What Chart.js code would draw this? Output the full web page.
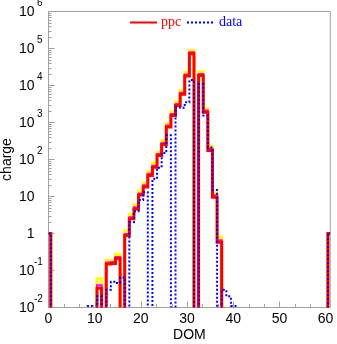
<!DOCTYPE html>
<html><head><meta charset="utf-8">
<script src="https://cdn.jsdelivr.net/npm/chart.js@4"></script>
<style>html,body{margin:0;padding:0;background:#fff}canvas{display:block}</style>
</head><body>
<canvas id="c" width="337" height="344"></canvas>
<script>
// DOM index (bin centres)
const doms = [0,1,2,3,4,5,6,7,8,9,10,11,12,13,14,15,16,17,18,19,20,
  21,22,23,24,25,26,27,28,29,30,31,32,33,34,35,36,37,38,39,40,
  41,42,43,44,45,46,47,48,49,50,51,52,53,54,55,56,57,58,59,60,61];

// ppc simulation (red)
const ppc = [1, 0,0,0,0,0,0,0,0,0,0,
  0.033, 0, 0.15, 0.155, 0.21, 0, 0.88, 2.5, 4.6, 11,
  18, 37, 62, 128, 254, 750, 1550, 2870, 5800, 18000,
  72000, 0, 18600, 1900, 175, 9.6, 0.58, 0, 0, 0,
  0,0,0,0,0,0,0,0,0,0, 0,0,0,0,0,0,0,0,0,0, 1];

// ppc variant (magenta)
const ppcMid = [1, 0,0,0,0,0,0,0,0,0,0,
  0.04, 0, 0.165, 0.17, 0.23, 0, 0.97, 2.75, 5.1, 12,
  20, 41, 68, 140, 280, 830, 1700, 3150, 6400, 19800,
  79000, 0, 20500, 2100, 195, 10.8, 0.66, 0, 0, 0,
  0,0,0,0,0,0,0,0,0,0, 0,0,0,0,0,0,0,0,0,0, 1];

// ppc variant (yellow)
const ppcHigh = [1, 0,0,0,0,0,0,0,0,0,0,
  0.06, 0, 0.19, 0.19, 0.27, 0, 1.2, 3.3, 6, 14,
  23, 47, 80, 160, 320, 930, 1950, 3600, 7300, 22500,
  88000, 0, 23500, 2400, 225, 12.5, 0.8, 0, 0, 0,
  0,0,0,0,0,0,0,0,0,0, 0,0,0,0,0,0,0,0,0,0, 1];

// measured data (blue dotted)
const dataVals = [1, 0,0,0,0,0,0,0,0,0.011,0,
  0.02, 0, 0.03, 0.05, 0.046, 0.065, 0, 2.0, 4.0, 8,
  13, 0, 30, 60, 150, 450, 0, 2600, 2500, 3500,
  14000, 0, 11000, 1550, 210, 15, 0, 0.03, 0.02, 0.011,
  0,0,0,0,0,0,0,0,0,0, 0,0,0,0,0,0,0,0,0,0, 1];

const xTicks = [0, 10, 20, 30, 40, 50, 60];
const yTicks = [1e-2, 1e-1, 1, 10, 1e2, 1e3, 1e4, 1e5, 1e6];

const FLOOR = 1e-7; // empty bins fall below the axis
const toPts = v => doms.map((d, i) => ({ x: d, y: v[i] > 0 ? v[i] : FLOOR }));

const SANS = "'Liberation Sans', Arial, Helvetica, sans-serif";
const SERIF = "'Liberation Serif', 'Times New Roman', serif";
const GRAY = '#a0a0a0';

const decor = {
  id: 'decor',
  beforeDatasetsDraw(chart) {
    const { ctx, chartArea: a, scales: { x, y } } = chart;
    ctx.save();
    ctx.strokeStyle = GRAY; ctx.lineWidth = 1;
    ctx.strokeRect(a.left, a.top, a.right - a.left, a.bottom - a.top);
    ctx.beginPath();
    yTicks.forEach(v => { const p = y.getPixelForValue(v); ctx.moveTo(a.left, p); ctx.lineTo(a.left + 6, p); });
    for (let i = 0; i < yTicks.length - 1; i++) {
      for (let m = 2; m <= 9; m++) {
        const p = Math.round(y.getPixelForValue(yTicks[i] * m)) + 0.5;
        ctx.moveTo(a.left, p); ctx.lineTo(a.left + 3, p);
      }
    }
    for (let k = 0; k <= 18; k++) {
      const v = k * 10 / 3;
      const p = Math.round(x.getPixelForValue(v)) + 0.5;
      const len = (k % 3 === 0) ? 6 : 3.5;
      ctx.moveTo(p, a.bottom); ctx.lineTo(p, a.bottom - len);
    }
    ctx.stroke();
    ctx.restore();
  },
  afterDraw(chart) {
    const { ctx, scales: { y } } = chart;
    ctx.save();
    ctx.fillStyle = '#000';
    ctx.textBaseline = 'middle';
    y.ticks.forEach(t => {
      const e = Math.round(Math.log10(t.value));
      const p = y.getPixelForValue(t.value);
      ctx.font = '14px ' + SANS; ctx.textAlign = 'right';
      if (e === 0) { ctx.fillText('1', 34.5, p + 1); return; }
      ctx.fillText('10', 34.5, p + 1);
      if (e !== 1) {
        ctx.font = '10px ' + SANS; ctx.textAlign = 'left';
        ctx.fillText(String(e), e < 0 ? 34 : 37, p - 8);
      }
    });
    // legend
    ctx.lineWidth = 2;
    ctx.strokeStyle = '#ff0000'; ctx.setLineDash([]);
    ctx.beginPath(); ctx.moveTo(130, 22.5); ctx.lineTo(157, 22.5); ctx.stroke();
    ctx.strokeStyle = '#0000ff'; ctx.setLineDash([2, 2]);
    ctx.beginPath(); ctx.moveTo(187, 22.5); ctx.lineTo(214, 22.5); ctx.stroke();
    ctx.setLineDash([]);
    ctx.font = '14px ' + SERIF; ctx.textAlign = 'left'; ctx.textBaseline = 'alphabetic';
    ctx.fillStyle = '#ff0000'; ctx.fillText('ppc', 161, 26);
    ctx.fillStyle = '#0000ff'; ctx.fillText('data', 219, 26);
    ctx.restore();
  }
};

new Chart(document.getElementById('c'), {
  type: 'line',
  data: {
    datasets: [
      { label: 'data', data: toPts(dataVals), borderColor: '#0000ff', borderWidth: 2, borderDash: [2, 2], stepped: 'middle', fill: false },
      { label: 'ppc', data: toPts(ppc), borderColor: '#ff0000', borderWidth: 3, stepped: 'middle', fill: false },
      { label: 'ppc2', data: toPts(ppcMid), borderColor: '#ff00ff', borderWidth: 2, stepped: 'middle', fill: false },
      { label: 'ppc3', data: toPts(ppcHigh), borderColor: '#ffff00', borderWidth: 3, stepped: 'middle', fill: false }
    ]
  },
  options: {
    responsive: false, animation: false, events: [],
    layout: { padding: { left: 0, top: 11.5, right: 5.5, bottom: 0 } },
    plugins: { legend: { display: false }, tooltip: { enabled: false } },
    elements: { point: { radius: 0 }, line: { tension: 0 } },
    scales: {
      x: {
        type: 'linear', min: 0, max: 61,
        grid: { display: false, drawTicks: false }, border: { display: false },
        afterBuildTicks: s => { s.ticks = xTicks.map(v => ({ value: v })); },
        afterFit: s => { s.height = 36.5; },
        ticks: { padding: 3.5, color: '#000', font: { family: SANS, size: 14 }, maxRotation: 0, autoSkip: false },
        title: { display: true, text: 'DOM', color: '#000', font: { family: SANS, size: 14 }, padding: { top: 0, bottom: 0 } }
      },
      y: {
        type: 'logarithmic', min: 0.01, max: 1e6,
        grid: { display: false, drawTicks: false }, border: { display: false },
        afterBuildTicks: s => { s.ticks = yTicks.map(v => ({ value: v })); },
        afterFit: s => { s.width = 48.5; },
        ticks: { display: false },
        title: { display: true, text: 'charge', color: '#000', font: { family: SANS, size: 14, lineHeight: 1 }, padding: { top: 0, bottom: 0 } }
      }
    }
  },
  plugins: [decor]
});
</script>
</body></html>
